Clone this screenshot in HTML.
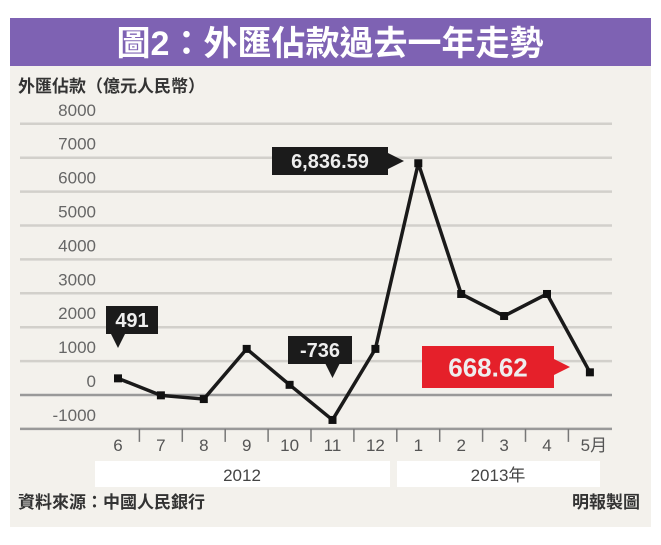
<!DOCTYPE html>
<html><head><meta charset="utf-8"><style>
body{margin:0;background:#fff;width:661px;height:540px;overflow:hidden;font-family:"Liberation Sans","Noto Sans CJK TC",sans-serif}
svg text{font-family:"Liberation Sans","Noto Sans CJK TC",sans-serif}
</style></head><body>
<svg width="661" height="540">
<rect x="10" y="65" width="641" height="462" fill="#f3f1ec"/>
<rect x="10" y="18" width="641" height="48" fill="#7e62b3"/>
<text x="330" y="55" text-anchor="middle" font-size="34" font-weight="bold" fill="#fff">圖2：外匯佔款過去一年走勢</text>
<text x="18" y="92" font-size="17" font-weight="bold" fill="#333">外匯佔款（億元人民幣）</text>
<rect x="95" y="461" width="295" height="26" fill="#fff"/>
<rect x="397" y="461" width="203" height="26" fill="#fff"/>
<text x="242" y="481" text-anchor="middle" font-size="17" fill="#444">2012</text>
<text x="498" y="481" text-anchor="middle" font-size="17" fill="#444">2013年</text>
<text x="18" y="508" font-size="17" font-weight="bold" fill="#333">資料來源：中國人民銀行</text>
<text x="640" y="508" text-anchor="end" font-size="17" font-weight="bold" fill="#333">明報製圖</text>
<g id="grid"></g><g id="plot"></g><g id="ann"></g>
</svg>
<script>
const months=["6","7","8","9","10","11","12","1","2","3","4","5月"];
const values=[491,-10,-120,1360,300,-736,1360,6836.59,2980,2330,2980,668.62];
const yTicks=[8000,7000,6000,5000,4000,3000,2000,1000,0,-1000];
const yTickLabels=["8000","7000","6000","5000","4000","3000","2000","1000","0","-1000"];
const NS="http://www.w3.org/2000/svg";
const xs=i=>118+i*42.9;
const ys=v=>395-v*0.0339;
function mk(t,a,p){const e=document.createElementNS(NS,t);for(const k in a)e.setAttribute(k,a[k]);p.appendChild(e);return e;}
const grid=document.getElementById('grid'),plot=document.getElementById('plot'),ann=document.getElementById('ann');
yTicks.forEach((v,i)=>{
 const l=mk('line',{x1:20,x2:612,y1:ys(v),y2:ys(v),stroke:(v===0||v===-1000)?'#999':'#d2d0cb','stroke-width':(v===0||v===-1000)?2.5:2.5},grid);
 
 
 const t=mk('text',{x:96,y:ys(v)-8,'text-anchor':'end','font-size':17,fill:'#666'},grid);
 t.textContent=yTickLabels[i];
 
 
});
months.forEach((m,i)=>{
 const t=mk('text',{x:xs(i)+(i===11?4:0),y:451,'text-anchor':'middle','font-size':17,fill:'#555'},grid);
 t.textContent=m;
 
 
 if(i>0){const k=mk('line',{x1:xs(i)-21.5,x2:xs(i)-21.5,y1:ys(-1000),y2:ys(-1000)+13,stroke:'#777','stroke-width':1.5},grid);
 
 }
});
const pl=mk('polyline',{points:values.map((v,i)=>xs(i)+','+ys(v)).join(' '),fill:'none',stroke:'#1a1a1a','stroke-width':3.5,'stroke-linejoin':'round'},plot);


values.forEach((v,i)=>{
 const p=mk('rect',{x:xs(i)-4,y:ys(v)-4,width:8,height:8,fill:'#111'},plot);
 
 
});
function callout(i,txt,bx,by,bw,bh,fill,dir,fs,name){
 const g=mk('g',{},ann);
 
 
 mk('rect',{x:bx,y:by,width:bw,height:bh,fill:fill},g);
 const px=xs(i),py=ys(values[i]);
 if(dir==='down'){mk('polygon',{points:(px-7)+','+(by+bh)+' '+(px+7)+','+(by+bh)+' '+px+','+(by+bh+14)},g).setAttribute('fill',fill);}
 else{mk('polygon',{points:(bx+bw)+','+(by+bh/2-8)+' '+(bx+bw)+','+(by+bh/2+8)+' '+(bx+bw+16)+','+(by+bh/2)},g).setAttribute('fill',fill);}
 const t=mk('text',{x:bx+bw/2,y:by+bh/2+fs*0.36,'text-anchor':'middle','font-size':fs,'font-weight':'bold',fill:'#eee'},g);
 t.textContent=txt;
}
callout(0,"491",106,306,52,28,'#1b1b1b','down',20,'label-jun');
callout(5,"-736",288,336,64,28,'#1b1b1b','down',20,'label-nov');
callout(7,"6,836.59",272,147,116,28,'#1b1b1b','right',20,'label-jan');
callout(11,"668.62",422,346,132,42,'#e5202a','right',26,'label-may');
</script>
</body></html>
